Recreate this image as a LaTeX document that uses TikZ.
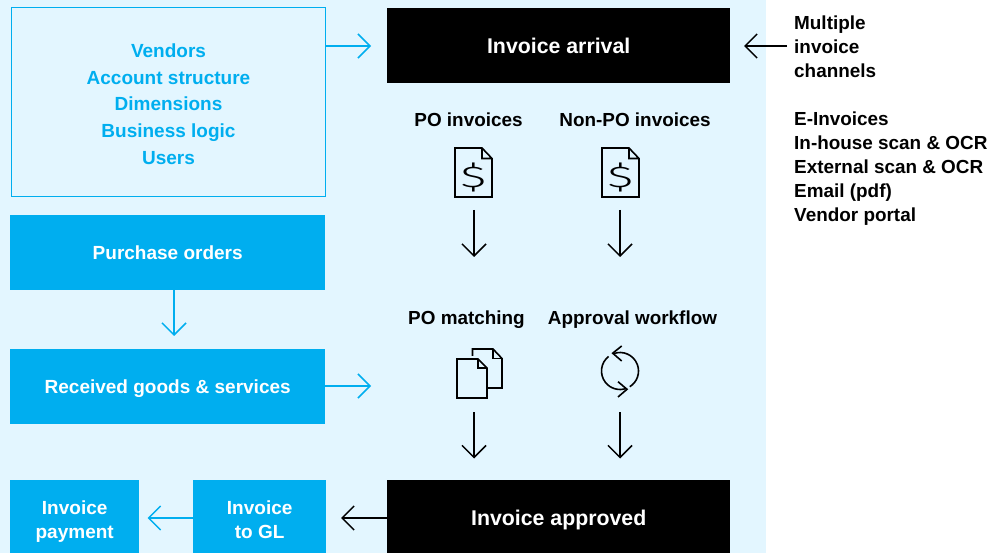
\documentclass[tikz,border=0pt]{standalone}
\usepackage{graphicx}
\usepackage{fontspec}
\setmainfont{Liberation Sans}
\newfontfamily\thinfont{Fira Sans Light}
\usetikzlibrary{arrows.meta}
\definecolor{bgblue}{HTML}{E3F6FF}
\definecolor{mainblue}{HTML}{00AEEF}
\newcommand{\dn}[2]{\raisebox{-#1}[\height][\depth]{\begin{tabular}{@{}c@{}}#2\end{tabular}}}
\tikzset{
  boxbase/.style={minimum height=75pt,inner sep=0pt,align=center,anchor=north west,font=\fontsize{19}{26.8}\bfseries\selectfont},
  bluebox/.style={boxbase,fill=mainblue,text=white},
  blackbox/.style={boxbase,fill=black,text=white,minimum width=343pt,font=\fontsize{21.3}{24}\bfseries\selectfont},
  outbox/.style={boxbase,draw=mainblue,line width=1pt,text=mainblue},
  tagtext/.style={inner sep=0pt,font=\fontsize{18.9}{24}\bfseries\selectfont,text=black},
  sidetext/.style={tagtext,anchor=north west,align=left},
  conn/.style={line width=1.5pt,-{Straight Barb[length=12pt,width=24pt,line width=1.5pt]}},
  bconn/.style={conn,draw=mainblue},
  kconn/.style={conn,draw=black},
  icon/.style={draw=black,line width=1.6pt,line join=miter},
  dollar/.style={inner sep=0pt,font=\fontsize{30}{30}\thinfont\selectfont,text=black},
}
\begin{document}
\begin{tikzpicture}[x=1pt,y=-1pt]
\useasboundingbox (0,0) rectangle (991,553);
\fill[bgblue] (0,0) rectangle (766,553);
\fill[white] (766,0) rectangle (991,553);

\node[outbox,minimum width=314pt,minimum height=189pt] (setup) at (11,7) {\dn{3.5pt}{Vendors\\Account structure\\Dimensions\\Business logic\\Users}};
\node[bluebox,minimum width=315pt] (po) at (10,215) {\dn{1.5pt}{Purchase orders}};
\node[bluebox,minimum width=315pt] (goods) at (10,349) {\dn{1pt}{Received goods \& services}};
\node[bluebox,minimum width=129pt,minimum height=73pt,font=\fontsize{19}{24.5}\bfseries\selectfont] (pay) at (10,480) {\dn{5pt}{Invoice\\payment}};
\node[bluebox,minimum width=133pt,minimum height=73pt,font=\fontsize{19}{24.5}\bfseries\selectfont] (gl) at (193,480) {\dn{5pt}{Invoice\\to GL}};
\node[blackbox,minimum height=75pt] (arrival) at (387,8) {\dn{3.5pt}{Invoice arrival}};
\node[blackbox,minimum height=73pt] (approved) at (387,480) {\dn{4pt}{Invoice approved}};

\node[tagtext] (lpo) at (468.5,119.5) {PO invoices};
\node[tagtext] (lnon) at (635,119.5) {Non-PO invoices};
\node[tagtext] (lmatch) at (466.5,320) {PO matching};
\node[tagtext] (lflow) at (632.5,320) {Approval workflow};

\node[sidetext] (chan) at (794,16) {Multiple\\invoice\\channels};
\node[sidetext] (list) at (794,112) {E-Invoices\\In-house scan \& OCR\\External scan \& OCR\\Email (pdf)\\Vendor portal};

% document icons
\draw[icon] (482,148) -- (455,148) -- (455,197) -- (492,197) -- (492,158.5) -- cycle (482,148) -- (482,158.5) -- (492,158.5);
\node[dollar] (d1) at (473.5,177) {\scalebox{1.65}[1]{\$}};
\draw[icon] (629,148) -- (602,148) -- (602,197) -- (639,197) -- (639,158.5) -- cycle (629,148) -- (629,158.5) -- (639,158.5);
\node[dollar] (d2) at (620.5,177) {\scalebox{1.65}[1]{\$}};

% matching icon
\draw[icon] (472.5,356) -- (472.5,349) -- (493,349) -- (502,358.5) -- (502,388) -- (488,388);
\draw[icon] (493,349) -- (493,358.5) -- (502,358.5);
\draw[icon] (478,359) -- (457,359) -- (457,398) -- (487,398) -- (487,368) -- cycle (478,359) -- (478,368) -- (487,368);

% cycle icon
\draw[icon] (620,371) ++(-111:18.5) arc[start angle=-111,end angle=58,radius=18.5];
\draw[icon] (620,371) ++(-128:18.5) arc[start angle=-128,end angle=-290,radius=18.5];
\draw[icon] (621.7,346) -- (612.7,353.2) -- (621.7,361);
\draw[icon] (618,381.7) -- (627,389.3) -- (618,397);

% connector ends
\coordinate (tipsetup) at (371,46);
\coordinate (tipgoods) at (371,386);
\coordinate (tipchan) at (744,46);
\coordinate (startchan) at (787,46);
\coordinate (tippo) at (174,336);
\coordinate (a1s) at (474,210);
\coordinate (a1e) at (474,257);
\coordinate (a2s) at (620,210);
\coordinate (a2e) at (620,257);
\coordinate (a3s) at (474,412);
\coordinate (a3e) at (474,458.5);
\coordinate (a4s) at (620,412);
\coordinate (a4e) at (620,458.5);
\coordinate (tipgl) at (147.5,518);
\coordinate (tipapp) at (341,518);

\draw[bconn] (setup.east |- tipsetup) -- (tipsetup);
\draw[bconn] (goods.east |- tipgoods) -- (tipgoods);
\draw[bconn] (po.south -| tippo) -- (tippo);
\draw[bconn] (gl.west |- tipgl) -- (tipgl);
\draw[kconn] (approved.west |- tipapp) -- (tipapp);
\draw[kconn] (startchan) -- (tipchan);
\draw[kconn] (a1s) -- (a1e);
\draw[kconn] (a2s) -- (a2e);
\draw[kconn] (a3s) -- (a3e);
\draw[kconn] (a4s) -- (a4e);
\end{tikzpicture}
\end{document}
